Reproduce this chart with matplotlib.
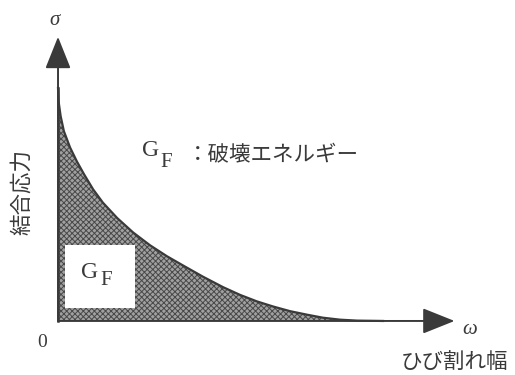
import matplotlib
matplotlib.use("Agg")
import matplotlib.pyplot as plt
from matplotlib.patches import Rectangle
import numpy as np

plt.rcParams['font.family'] = ['Noto Sans CJK JP', 'DejaVu Sans']
plt.rcParams['mathtext.fontset'] = 'custom'
plt.rcParams['mathtext.rm'] = 'Liberation Serif'
plt.rcParams['mathtext.it'] = 'Liberation Serif:italic'
plt.rcParams['hatch.linewidth'] = 0.7

# Softening curve (crack width omega vs bridging stress sigma)
omega = [0.0, 0.02, 0.08, 0.18, 0.37, 0.58, 0.8, 1.08, 1.38, 1.82, 2.31, 2.83,
         3.35, 3.85, 4.46, 5.08, 5.6, 6.12, 6.62, 7.14, 7.66, 8.15, 8.68, 9.2, 10.0]
sigma = [10.0, 9.4, 8.8, 8.15, 7.45, 6.85, 6.3, 5.65, 5.08, 4.42, 3.8, 3.25,
         2.78, 2.38, 1.9, 1.45, 1.12, 0.84, 0.62, 0.42, 0.27, 0.14, 0.055, 0.015, 0.0]

x_label = "ひび割れ幅"
y_label = "結合応力"
legend_text = "：破壊エネルギー"

fig = plt.figure(figsize=(5.15, 3.75), dpi=100)
ax = fig.add_axes([0, 0, 1, 1])
ax.set_xlim(-1.785, 14.06)
ax.set_ylim(-2.32, 13.78)
ax.axis('off')

ink = '#3a3a3a'
serif = 'Liberation Serif'
ox = np.concatenate([omega, [omega[-1], 0]])
oy = np.concatenate([sigma, [0, 0]])
ax.fill(ox, oy, facecolor='#a0a0a0', edgecolor='#484848', hatch='xxxxxx', linewidth=0)
ax.plot(omega, sigma, color=ink, lw=1.6, solid_joinstyle='round')
ax.plot([0, 0], [0, sigma[0]], color=ink, lw=1.8)

# white box with G_F
ax.add_patch(Rectangle((0.22, 0.56), 2.15, 2.7, facecolor='white', edgecolor='none', zorder=3))
ax.text(0.7, 2.06, 'G', fontsize=17, family=serif, color=ink, ha='left', va='center', zorder=4)
ax.text(1.29, 1.72, 'F', fontsize=15, family=serif, color=ink, ha='left', va='center', zorder=4)

# axes arrows
arrow = dict(arrowstyle='-|>,head_length=1.0,head_width=0.4', color=ink, lw=1.4, mutation_scale=20,
             shrinkA=0, shrinkB=0)
ax.annotate('', xy=(12.2, 0), xytext=(0, 0), arrowprops=arrow)
ax.annotate('', xy=(0, 12.2), xytext=(0, 0), arrowprops=arrow)

ax.text(-0.09, 12.96, r'$\sigma$', fontsize=15, color=ink, ha='center', va='center')
ax.text(12.68, -0.3, r'$\omega$', fontsize=15, color=ink, ha='center', va='center')
ax.text(-0.49, -0.94, '0', fontsize=14, family=serif, color=ink, ha='center', va='center')

ax.text(2.58, 7.34, 'G', fontsize=17, family=serif, color=ink, ha='left', va='center')
ax.text(3.14, 6.82, 'F', fontsize=15, family=serif, color=ink, ha='left', va='center')
ax.text(3.95, 7.12, legend_text, fontsize=15.5, color=ink, ha='left', va='center')

ax.text(12.2, -1.76, x_label, fontsize=15.5, color=ink, ha='center', va='center')
ax.text(-1.1, 5.54, y_label, fontsize=15.5, color=ink, ha='center', va='center', rotation=90)

fig.savefig('out.png', dpi=100)
